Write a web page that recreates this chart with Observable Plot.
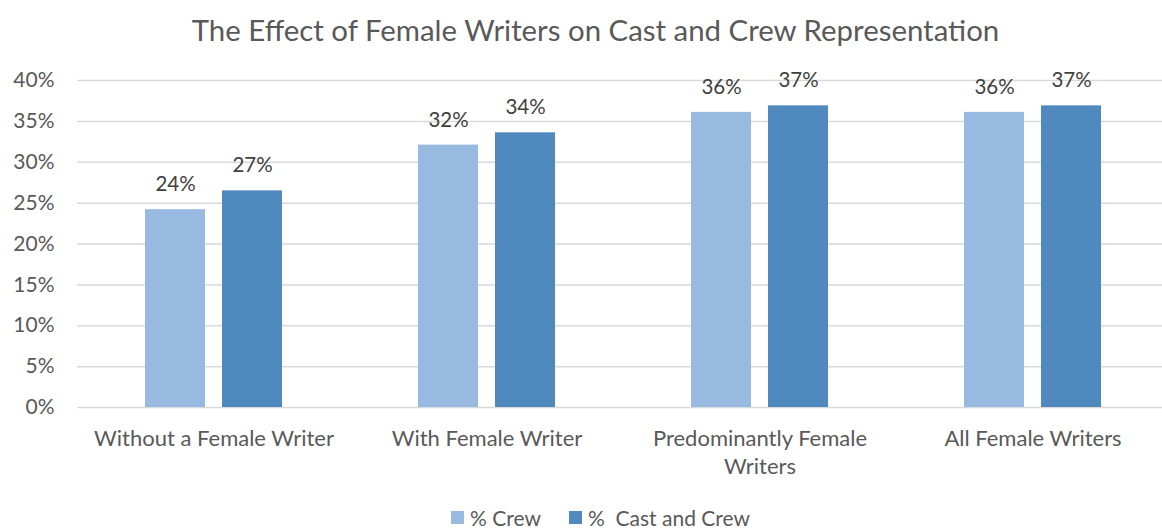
<!DOCTYPE html>
<html>
<head>
<meta charset="utf-8">
<script src="https://cdn.jsdelivr.net/npm/d3@7"></script>
<script src="https://cdn.jsdelivr.net/npm/@observablehq/plot@0.6"></script>
<style>
  html, body { margin: 0; padding: 0; background: #fff; }
  #wrap { width: 1162px; height: 528px; position: relative; overflow: hidden; font-family: Lato, "Open Sans", sans-serif; }
  #title { height: 60px; line-height: 60px; text-align: center; font-size: 29.4px; color: #595959; padding-left: 29px; box-sizing: border-box; white-space: nowrap; }
  #legend { height: 28px; display: flex; justify-content: center; align-items: center; gap: 28px; font-size: 21px; color: #595959; padding-left: 39px; padding-top: 6px; box-sizing: border-box; }
  .item { display: flex; align-items: center; gap: 6px; white-space: pre; }
  .sw { width: 13px; height: 13px; display: inline-block; }
</style>
</head>
<body>
<div id="wrap">
  <div id="title"></div>
  <div id="chart"></div>
  <div id="legend"></div>
</div>
<script>
const titleText = "The Effect of Female Writers on Cast and Crew Representation";
const categories = ["Without a Female Writer", "With Female Writer", "Predominantly Female Writers", "All Female Writers"];
const categoryLabels = ["Without a Female Writer", "With Female Writer", "Predominantly Female\nWriters", "All Female Writers"];
const series = ["% Crew", "%  Cast and Crew"];
const crew = [24.2, 32.1, 36.1, 36.1];
const castAndCrew = [26.5, 33.6, 36.9, 36.9];
const yTicks = [0, 5, 10, 15, 20, 25, 30, 35, 40];
const colors = ["#99BAE0", "#4F89BD"];

const data = [];
categories.forEach((c, i) => {
  data.push({category: c, series: series[0], value: crew[i]});
  data.push({category: c, series: series[1], value: castAndCrew[i]});
});

document.getElementById("title").textContent = titleText;

const chart = Plot.plot({
  width: 1162,
  height: 440,
  marginTop: 20,
  marginBottom: 93,
  marginLeft: 76,
  marginRight: 0,
  style: {fontFamily: "Lato, 'Open Sans', sans-serif", fontSize: "21px", color: "#595959", background: "white", overflow: "hidden"},
  fx: {domain: categories, range: [76, 1169], padding: 0, label: null},
  x: {domain: series, paddingInner: 0.218, paddingOuter: 0.861, axis: null},
  y: {domain: [0, 40], label: null},
  color: {domain: series, range: colors},
  marks: [
    Plot.gridY(yTicks, {stroke: "#d9d9d9", strokeOpacity: 1, strokeWidth: 1.5}),
    Plot.axisY(yTicks, {tickSize: 0, tickPadding: 23, tickFormat: d => d + "%", label: null, fill: "#595959", fontSize: 21}),
    Plot.axisFx({anchor: "bottom", tickSize: 0, tickPadding: 18, label: null, lineHeight: 1.3, fill: "#595959", fontSize: 22,
      tickFormat: d => categoryLabels[categories.indexOf(d)]}),
    Plot.barY(data, {fx: "category", x: "series", y: "value", fill: "series"}),
    Plot.text(data, {fx: "category", x: "series", y: "value", text: d => Math.round(d.value) + "%", dy: -25, fill: "#404040", fontSize: 20.5})
  ]
});
document.getElementById("chart").appendChild(chart);

const legend = document.getElementById("legend");
series.forEach((s, i) => {
  const item = document.createElement("span");
  item.className = "item";
  const sw = document.createElement("span");
  sw.className = "sw";
  sw.style.background = colors[i];
  const label = document.createElement("span");
  label.textContent = s;
  item.appendChild(sw);
  item.appendChild(label);
  legend.appendChild(item);
});
</script>
</body>
</html>
